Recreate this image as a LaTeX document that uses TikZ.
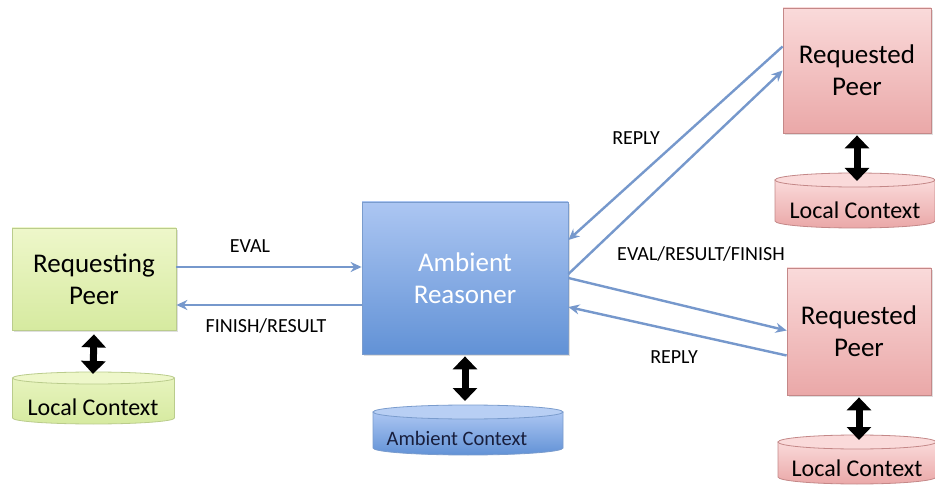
\documentclass[tikz,border=0pt]{standalone}
\usepackage{fontspec}
\setmainfont{Carlito}
\usetikzlibrary{arrows.meta,calc,shadows}
\definecolor{gtop}{RGB}{238,247,202}
\definecolor{gbot}{RGB}{214,234,160}
\definecolor{gline}{RGB}{186,204,140}
\definecolor{btop}{RGB}{172,198,242}
\definecolor{bbot}{RGB}{98,146,214}
\definecolor{bline}{RGB}{122,156,205}
\definecolor{ptop}{RGB}{250,218,218}
\definecolor{pbot}{RGB}{234,168,168}
\definecolor{pline}{RGB}{196,136,136}
\definecolor{arr}{RGB}{118,152,204}
\definecolor{navy}{RGB}{24,30,60}
\begin{document}
\begin{tikzpicture}[x=1pt,y=-1pt,
  box/.style={draw,line width=0.8pt,inner sep=0pt,align=center,
    font=\fontsize{27}{32}\selectfont,
    drop shadow={opacity=0.25,shadow xshift=1.5pt,shadow yshift=-2pt}},
  greenbox/.style={box,draw=gline,top color=gtop,bottom color=gbot},
  bluebox/.style={box,draw=bline,top color=btop,bottom color=bbot,text=white},
  pinkbox/.style={box,draw=pline,top color=ptop,bottom color=pbot},
  msg/.style={draw=arr,line width=2.4pt,-{Stealth[length=11pt,width=10pt]}},
  lbl/.style={inner sep=0pt,font=\fontsize{20}{22}\selectfont},
  dbl/.style={line width=7pt,{Triangle[width=24pt,length=13pt]}-{Triangle[width=24pt,length=13pt]},black},
  cyltxt/.style={inner sep=0pt,font=\fontsize{24}{26}\selectfont}
]
\useasboundingbox (0,0) rectangle (935,489);
\fill[white] (0,0) rectangle (935,489);

% ---- cylinders (drawn directly) ----
% left local context
\path[draw=gline,line width=0.8pt,top color=gtop!70!gbot,bottom color=gbot]
  (12.5,378) -- (12.5,418) arc[start angle=180,end angle=0,x radius=81,y radius=6] -- (174.5,378) -- cycle;
\path[draw=gline,line width=0.8pt,fill=gtop] (93.5,378) ellipse[x radius=81,y radius=6];
% ambient context
\path[draw=bline,line width=0.8pt,top color=btop,bottom color=bbot]
  (373,412) -- (373,448) arc[start angle=180,end angle=0,x radius=95,y radius=7] -- (563,412) -- cycle;
\path[draw=bline,line width=0.8pt,fill=btop!85!white] (468,412) ellipse[x radius=95,y radius=7];
% top right local context
\path[draw=pline,line width=0.8pt,top color=ptop,bottom color=pbot]
  (775,180) -- (775,221) arc[start angle=180,end angle=0,x radius=80,y radius=7] -- (935,180) -- cycle;
\path[draw=pline,line width=0.8pt,fill=ptop] (855,180) ellipse[x radius=80,y radius=7];
% bottom right local context
\path[draw=pline,line width=0.8pt,top color=ptop,bottom color=pbot]
  (778,442) -- (778,477) arc[start angle=180,end angle=0,x radius=79,y radius=7] -- (936,442) -- cycle;
\path[draw=pline,line width=0.8pt,fill=ptop] (857,442) ellipse[x radius=79,y radius=7];

\node[cyltxt] (lc1) at (93,407) {Local Context};
\node[cyltxt,text=navy,font=\fontsize{20.5}{24}\selectfont] (ac) at (457,438) {Ambient Context};
\node[cyltxt] (lc2) at (855,210) {Local Context};
\node[cyltxt] (lc3) at (857,468) {Local Context};

\coordinate (lc1top) at (93,374);
\coordinate (actop) at (465,401);
\coordinate (lc2top) at (857,181);
\coordinate (lc3top) at (859,440);

% ---- boxes ----
\node[greenbox,minimum width=164pt,minimum height=102pt] (rp) at (94,279) {Requesting\\Peer};
\node[bluebox,minimum width=206pt,minimum height=152pt] (ar) at (465,278) {Ambient\\Reasoner};
\node[pinkbox,minimum width=148pt,minimum height=125pt] (tp) at (857,70.5) {Requested\\Peer};
\node[pinkbox,minimum width=144pt,minimum height=127pt] (bp) at (859,331.5) {Requested\\Peer};

% ---- double arrows ----
\draw[dbl] ([yshift=-4pt]rp.south) -- (lc1top);
\draw[dbl] ([yshift=-2pt]ar.south) -- (actop);
\draw[dbl] ([yshift=-2pt]tp.south) -- (lc2top);
\draw[dbl] ([yshift=-2pt]bp.south) -- (lc3top);

% ---- messages ----
\draw[msg] ([yshift=12pt]rp.east) -- ([yshift=11pt]ar.west);
\draw[msg] ([yshift=-27pt]ar.west) -- ([yshift=-26pt]rp.east);
\draw[msg] ([yshift=24pt]tp.west) -- ([yshift=38pt]ar.east);
\draw[msg] ([yshift=4pt]ar.east) -- ([yshift=0pt]tp.west);
\draw[msg] ([yshift=0pt]ar.east) -- ([yshift=1pt]bp.west);
\draw[msg] ([yshift=-24pt]bp.west) -- ([yshift=-29pt]ar.east);

% ---- labels ----
\node[lbl] (l1) at (250,246) {EVAL};
\node[lbl] (l2) at (266,326) {FINISH/RESULT};
\node[lbl] (l3) at (636,138) {REPLY};
\node[lbl] (l4) at (701,254) {EVAL/RESULT/FINISH};
\node[lbl] (l5) at (674,357) {REPLY};
\end{tikzpicture}
\end{document}
